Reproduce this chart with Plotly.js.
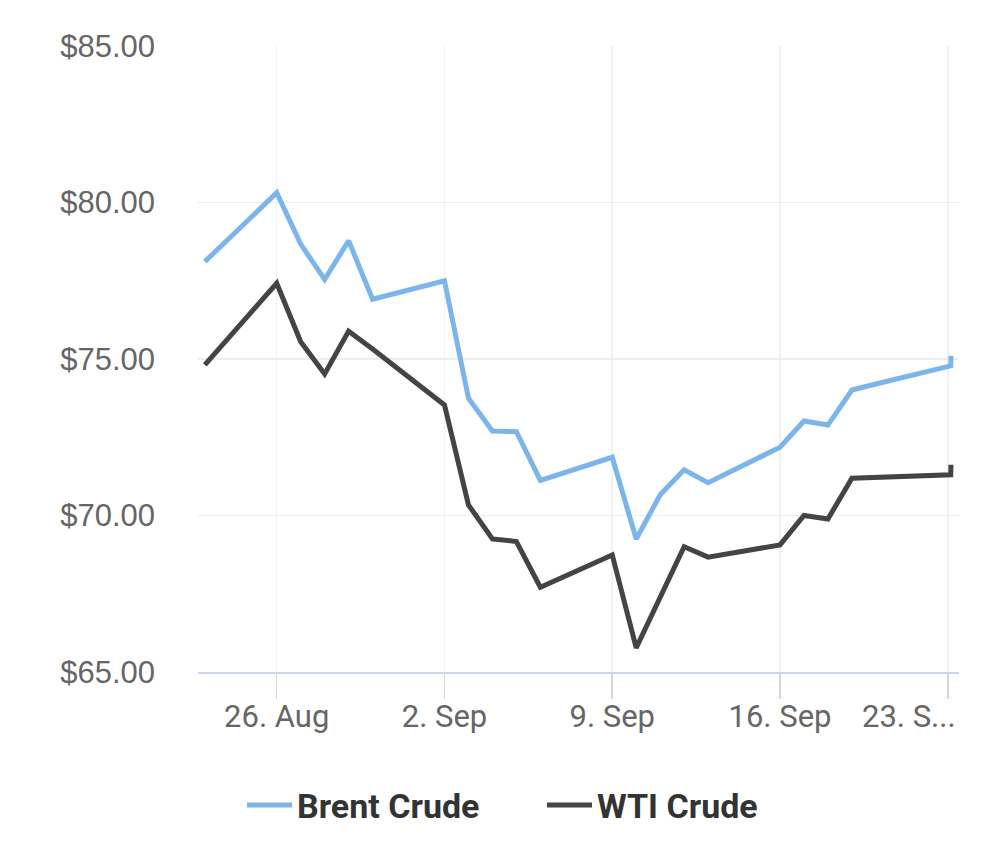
<!DOCTYPE html>
<html>
<head>
<meta charset="utf-8">
<script src="https://cdn.plot.ly/plotly-3.0.1.min.js"></script>
<style>html,body{margin:0;padding:0;background:#fff;}#chart{width:1000px;height:846px;}</style>
</head>
<body>
<div id="chart"></div>
<script>
const dates = ['2024-08-23','2024-08-26','2024-08-27','2024-08-28','2024-08-29','2024-08-30',
  '2024-09-02','2024-09-03','2024-09-04','2024-09-05','2024-09-06',
  '2024-09-09','2024-09-10','2024-09-11','2024-09-12','2024-09-13',
  '2024-09-16','2024-09-17','2024-09-18','2024-09-19','2024-09-20',
  '2024-09-23 03:00','2024-09-23 03:10'];
const brent = [78.11,80.31,78.67,77.54,78.78,76.91,
  77.50,73.75,72.70,72.68,71.12,
  71.86,69.25,70.66,71.46,71.05,
  72.18,73.02,72.89,74.01,74.20,
  74.78,75.10];
const wti = [74.81,77.42,75.55,74.52,75.89,75.32,
  73.53,70.34,69.25,69.17,67.71,
  68.74,65.77,67.43,69.00,68.67,
  69.06,70.00,69.89,71.19,71.22,
  71.30,71.62];
const tickDates = ['2024-08-26','2024-09-02','2024-09-09','2024-09-16','2024-09-23'];
const tickLabels = ['26. Aug','2. Sep','9. Sep','16. Sep','23. S...'];
const yTicks = [65,70,75,80,85];
const yLabels = ['$65.00','$70.00','$75.00','$80.00','$85.00'];

const lastIdx = tickLabels.length - 1;
// last label is drawn right-aligned so it stays inside the chart
const tickText = tickLabels.map((t, i) => i === lastIdx ? '' : t);

const traces = [
  {x: dates, y: brent, name: 'Brent Crude', type: 'scatter', mode: 'lines',
   line: {color: '#7cb5ec', width: 5}, hoverinfo: 'skip'},
  {x: dates, y: wti, name: 'WTI Crude', type: 'scatter', mode: 'lines',
   line: {color: '#434348', width: 5}, hoverinfo: 'skip'}
];

const layout = {
  width: 1000, height: 846,
  paper_bgcolor: '#ffffff', plot_bgcolor: '#ffffff',
  margin: {l: 198, r: 41, t: 46, b: 174},
  showlegend: true,
  legend: {orientation: 'h', xref: 'container', yref: 'container', x: 0.542, xanchor: 'center',
    y: 0.048, yanchor: 'middle', font: {family: 'Roboto', size: 34, color: '#333333', weight: 'bold'},
    itemwidth: 45, entrywidth: 240, entrywidthmode: 'pixels'},
  xaxis: {
    type: 'date', range: ['2024-08-22 17:10', '2024-09-23 11:15'],
    tickmode: 'array', tickvals: tickDates, ticktext: tickText,
    ticks: 'outside', ticklen: 25, tickwidth: 1.5, tickcolor: '#ccd6eb',
    showline: true, linecolor: '#ccd6eb', linewidth: 2,
    showgrid: true, gridcolor: '#f2f2f2', gridwidth: 1.5,
    zeroline: false, ticklabelstandoff: -9,
    tickfont: {family: 'Roboto', size: 31, color: '#666666'}
  },
  yaxis: {
    range: [65, 85], tickmode: 'array', tickvals: yTicks, ticktext: yLabels,
    ticks: '', showline: false, zeroline: false,
    showgrid: true, gridcolor: '#ededed', gridwidth: 1.5,
    ticklabelstandoff: 42,
    tickfont: {family: 'Liberation Sans', size: 31, color: '#666666'}
  },
  annotations: [{
    xref: 'x', yref: 'paper', x: tickDates[lastIdx], y: 0,
    xanchor: 'right', yanchor: 'middle', xshift: 10, yshift: -44,
    text: tickLabels[lastIdx], showarrow: false,
    font: {family: 'Roboto', size: 31, color: '#666666'}
  }]
};
Plotly.newPlot('chart', traces, layout, {staticPlot: true, displayModeBar: false});
</script>
</body>
</html>
